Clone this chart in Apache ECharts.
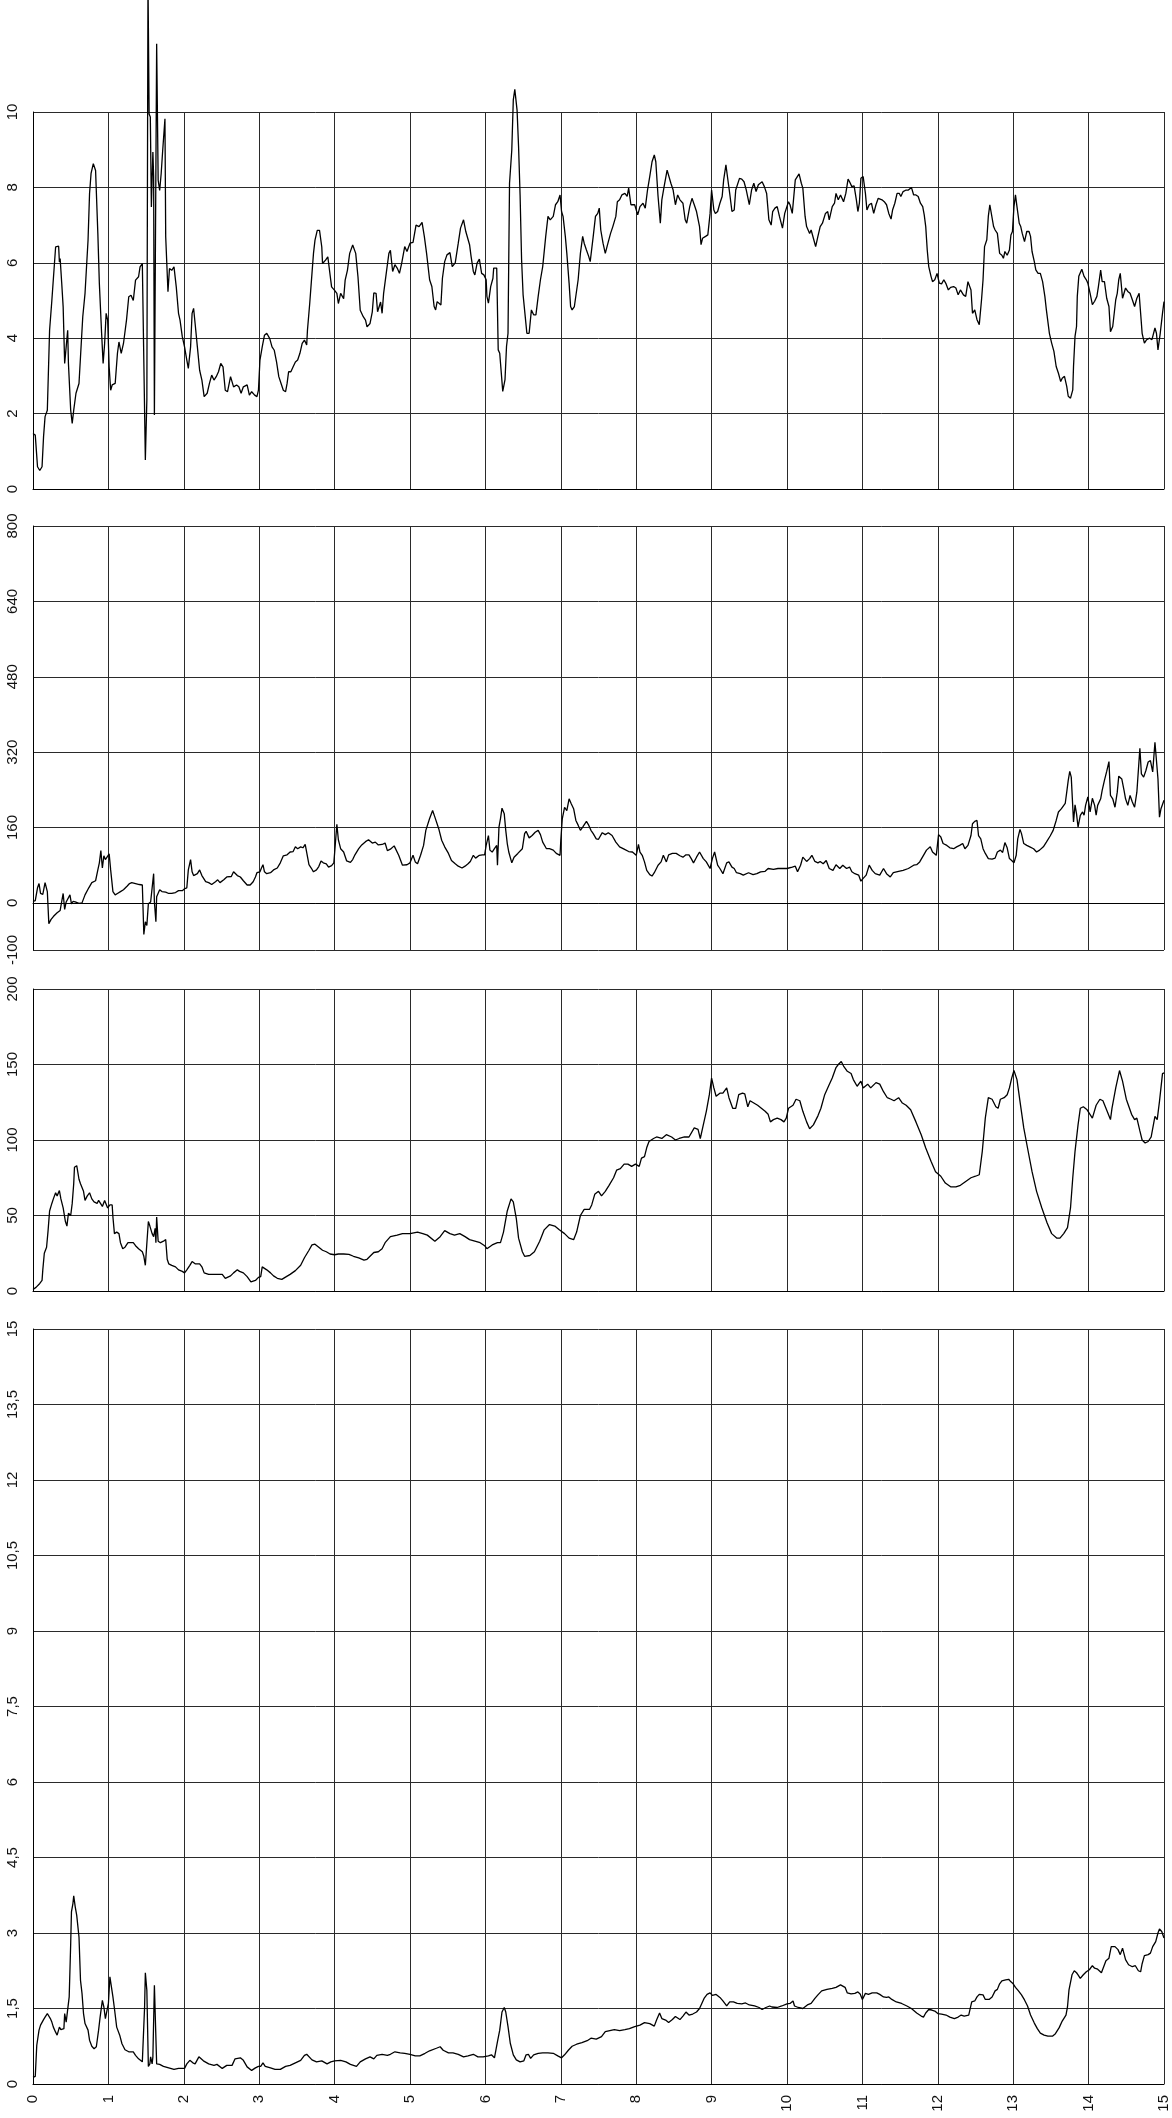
<!DOCTYPE html>
<html><head><meta charset="utf-8">
<script src="https://cdn.jsdelivr.net/npm/echarts@6/dist/echarts.min.js"></script>
<style>html,body{margin:0;padding:0;background:#fff}#c{width:1172px;height:2118px}</style>
</head><body><div id="c"></div>
<script>
// x range and y ranges of the four panels
const X_RANGE = [0, 15, 1];
const Y_RANGES = [[0, 10, 2], [-100, 800, 160], [0, 200, 50], [0, 15, 1.5]];
// tick values of panel 2 (does not start at its min)
const P2_TICKS = [-100, 0, 160, 320, 480, 640, 800];

// Panel 1 data [x, y]
const p1Data = [[0,1.47],[0.03,1.43],[0.06,0.59],[0.09,0.49],[0.12,0.59],[0.14,1.39],[0.16,1.92],[0.19,2.09],[0.22,4.21],[0.25,5.0],[0.30,6.42],[0.34,6.44],[0.35,6.02],[0.36,6.11],[0.38,5.49],[0.40,4.83],[0.42,3.33],[0.43,3.55],[0.44,3.51],[0.46,4.21],[0.47,3.33],[0.50,2.09],[0.52,1.74],[0.54,2.09],[0.57,2.54],[0.61,2.8],[0.63,3.51],[0.66,4.57],[0.69,5.19],[0.73,6.6],[0.75,7.84],[0.77,8.37],[0.80,8.63],[0.83,8.45],[0.86,6.78],[0.88,5.45],[0.91,4.13],[0.93,3.33],[0.95,3.86],[0.97,4.66],[0.99,4.48],[1.01,3.24],[1.03,2.62],[1.05,2.76],[1.09,2.8],[1.12,3.6],[1.14,3.9],[1.17,3.6],[1.20,3.86],[1.24,4.48],[1.27,5.1],[1.30,5.14],[1.33,5.0],[1.36,5.54],[1.40,5.63],[1.42,5.89],[1.45,5.98],[1.46,6.0],[1.49,0.77],[1.51,2.36],[1.525,13.5],[1.54,9.95],[1.556,9.87],[1.57,7.48],[1.59,8.94],[1.60,8.28],[1.61,1.96],[1.63,1.96],[1.64,11.81],[1.66,8.19],[1.68,7.92],[1.70,8.37],[1.72,8.98],[1.75,9.82],[1.76,6.69],[1.79,5.23],[1.81,5.85],[1.84,5.8],[1.87,5.89],[1.90,5.36],[1.93,4.66],[1.95,4.48],[1.98,4.04],[2.01,3.77],[2.04,3.42],[2.06,3.2],[2.09,3.77],[2.11,4.66],[2.13,4.79],[2.15,4.39],[2.18,3.77],[2.21,3.15],[2.24,2.89],[2.27,2.45],[2.31,2.54],[2.34,2.8],[2.37,3.02],[2.40,2.89],[2.43,2.98],[2.46,3.11],[2.49,3.33],[2.52,3.24],[2.55,2.62],[2.58,2.58],[2.62,2.98],[2.64,2.98],[2.66,2.71],[2.70,2.76],[2.73,2.71],[2.76,2.54],[2.79,2.71],[2.84,2.76],[2.87,2.49],[2.90,2.58],[2.94,2.49],[2.97,2.45],[2.99,2.62],[3.01,3.42],[3.04,3.77],[3.07,4.08],[3.10,4.13],[3.14,3.99],[3.17,3.77],[3.20,3.68],[3.23,3.37],[3.26,2.98],[3.29,2.8],[3.32,2.62],[3.35,2.58],[3.37,2.8],[3.39,3.11],[3.42,3.11],[3.45,3.24],[3.48,3.37],[3.51,3.42],[3.54,3.6],[3.57,3.86],[3.60,3.95],[3.63,3.82],[3.64,4.21],[3.67,4.92],[3.70,5.72],[3.72,6.25],[3.74,6.6],[3.77,6.86],[3.80,6.86],[3.83,6.42],[3.84,5.98],[3.88,6.07],[3.91,6.16],[3.93,6.16],[3.96,5.36],[4.0,5.27],[4.03,5.19],[4.05,4.92],[4.08,5.19],[4.12,5.05],[4.14,5.54],[4.17,5.8],[4.20,6.25],[4.24,6.47],[4.28,6.25],[4.31,5.63],[4.34,4.74],[4.38,4.57],[4.41,4.48],[4.43,4.3],[4.47,4.39],[4.50,4.7],[4.52,5.2],[4.55,5.19],[4.57,4.7],[4.61,4.96],[4.63,4.66],[4.65,5.19],[4.69,5.8],[4.72,6.25],[4.74,6.33],[4.77,5.77],[4.80,5.95],[4.83,5.86],[4.86,5.72],[4.89,5.99],[4.93,6.43],[4.96,6.3],[5.0,6.52],[5.04,6.54],[5.08,7.0],[5.12,6.96],[5.16,7.07],[5.19,6.7],[5.22,6.25],[5.26,5.55],[5.29,5.37],[5.32,4.84],[5.34,4.75],[5.36,4.97],[5.41,4.88],[5.43,5.59],[5.46,6.03],[5.49,6.21],[5.53,6.27],[5.56,5.9],[5.60,6.0],[5.64,6.52],[5.67,6.92],[5.71,7.14],[5.74,6.83],[5.79,6.48],[5.81,6.17],[5.84,5.77],[5.86,5.68],[5.89,5.99],[5.92,6.1],[5.95,5.72],[5.98,5.68],[6.01,5.55],[6.02,5.11],[6.04,4.93],[6.07,5.37],[6.10,5.59],[6.11,5.86],[6.15,5.86],[6.17,3.69],[6.19,3.6],[6.23,2.59],[6.26,2.9],[6.28,3.78],[6.30,4.13],[6.32,8.11],[6.35,8.99],[6.37,10.32],[6.39,10.6],[6.42,10.05],[6.44,9.08],[6.46,7.8],[6.48,6.08],[6.50,5.15],[6.55,4.13],[6.58,4.13],[6.61,4.75],[6.64,4.62],[6.67,4.62],[6.70,5.11],[6.73,5.55],[6.76,5.9],[6.80,6.7],[6.83,7.23],[6.86,7.14],[6.90,7.23],[6.93,7.54],[6.96,7.62],[6.99,7.8],[7.01,7.36],[7.03,7.23],[7.06,6.7],[7.08,6.25],[7.11,5.46],[7.13,4.84],[7.15,4.75],[7.18,4.84],[7.23,5.55],[7.26,6.25],[7.29,6.7],[7.31,6.52],[7.34,6.34],[7.37,6.17],[7.39,6.03],[7.43,6.7],[7.46,7.23],[7.49,7.31],[7.51,7.45],[7.53,6.87],[7.56,6.52],[7.59,6.25],[7.62,6.48],[7.66,6.78],[7.69,6.96],[7.73,7.23],[7.75,7.62],[7.78,7.67],[7.81,7.8],[7.85,7.84],[7.88,7.76],[7.90,7.98],[7.93,7.54],[7.98,7.54],[8.02,7.27],[8.05,7.49],[8.09,7.58],[8.12,7.45],[8.15,7.93],[8.18,8.29],[8.21,8.68],[8.24,8.86],[8.26,8.68],[8.29,7.76],[8.32,7.05],[8.34,7.67],[8.37,8.02],[8.41,8.46],[8.43,8.46],[8.46,8.11],[8.49,7.93],[8.52,7.54],[8.55,7.8],[8.58,7.67],[8.62,7.58],[8.65,7.14],[8.67,7.05],[8.71,7.49],[8.74,7.71],[8.77,7.54],[8.80,7.36],[8.84,6.96],[8.86,6.48],[8.88,6.65],[8.92,6.7],[8.95,6.74],[8.98,7.31],[9.0,7.93],[9.03,7.4],[9.05,7.31],[9.08,7.36],[9.11,7.58],[9.14,7.76],[9.16,8.2],[9.19,8.6],[9.21,8.29],[9.24,7.84],[9.27,7.36],[9.30,7.4],[9.32,7.93],[9.37,8.24],[9.40,8.22],[9.43,8.15],[9.46,7.93],[9.50,7.54],[9.53,7.93],[9.56,8.11],[9.59,7.89],[9.62,8.07],[9.67,8.15],[9.70,8.02],[9.73,7.84],[9.76,7.14],[9.79,7.0],[9.81,7.36],[9.84,7.45],[9.87,7.49],[9.90,7.23],[9.94,6.92],[9.97,7.31],[10.02,7.62],[10.04,7.54],[10.07,7.31],[10.11,8.2],[10.13,8.24],[10.16,8.36],[10.19,8.11],[10.21,7.98],[10.24,7.23],[10.26,6.96],[10.30,6.78],[10.32,6.87],[10.35,6.65],[10.38,6.43],[10.41,6.7],[10.44,6.96],[10.47,7.05],[10.51,7.31],[10.54,7.36],[10.56,7.14],[10.60,7.49],[10.63,7.58],[10.65,7.84],[10.68,7.67],[10.71,7.8],[10.75,7.62],[10.78,7.84],[10.81,8.22],[10.83,8.15],[10.86,8.02],[10.89,8.04],[10.92,7.67],[10.94,7.36],[10.96,7.58],[10.98,8.24],[11.01,8.29],[11.04,7.84],[11.06,7.4],[11.09,7.54],[11.12,7.58],[11.15,7.31],[11.18,7.54],[11.21,7.71],[11.26,7.67],[11.29,7.62],[11.32,7.54],[11.35,7.31],[11.38,7.16],[11.40,7.4],[11.43,7.58],[11.46,7.84],[11.49,7.84],[11.51,7.76],[11.54,7.89],[11.58,7.93],[11.61,7.93],[11.65,8.0],[11.68,7.8],[11.71,7.8],[11.74,7.76],[11.77,7.58],[11.80,7.49],[11.82,7.27],[11.84,6.96],[11.86,6.34],[11.88,5.9],[11.91,5.64],[11.93,5.5],[11.96,5.55],[11.99,5.72],[12.02,5.46],[12.05,5.44],[12.08,5.55],[12.11,5.44],[12.14,5.28],[12.17,5.35],[12.21,5.37],[12.24,5.33],[12.27,5.15],[12.30,5.28],[12.34,5.15],[12.37,5.11],[12.40,5.5],[12.42,5.55],[12.44,5.28],[12.46,4.66],[12.49,4.75],[12.52,4.49],[12.55,4.36],[12.58,5.02],[12.60,5.55],[12.62,6.43],[12.65,6.61],[12.67,7.23],[12.69,7.54],[12.71,7.49],[12.74,6.96],[12.76,6.87],[12.79,6.78],[12.82,6.25],[12.85,6.2],[12.87,6.12],[12.89,6.3],[12.92,6.2],[12.95,6.34],[12.97,6.74],[12.99,6.83],[13.01,7.49],[13.03,7.8],[13.05,7.49],[13.08,7.05],[13.10,6.96],[13.12,6.78],[13.15,6.56],[13.18,6.83],[13.21,6.83],[13.23,6.7],[13.25,6.3],[13.28,6.03],[13.30,5.81],[13.33,5.72],[13.36,5.72],[13.39,5.5],[13.42,5.11],[13.44,4.75],[13.48,4.13],[13.51,3.87],[13.54,3.65],[13.57,3.25],[13.60,3.07],[13.63,2.85],[13.65,2.94],[13.68,2.99],[13.71,2.72],[13.73,2.46],[13.76,2.41],[13.79,2.63],[13.80,3.25],[13.82,4.05],[13.84,4.31],[13.85,5.11],[13.87,5.64],[13.91,5.83],[13.94,5.64],[13.97,5.55],[13.99,5.46],[14.02,5.19],[14.05,4.89],[14.08,4.98],[14.11,5.11],[14.13,5.37],[14.16,5.81],[14.18,5.5],[14.21,5.5],[14.24,5.06],[14.27,4.84],[14.29,4.17],[14.32,4.31],[14.36,5.02],[14.38,5.19],[14.40,5.55],[14.42,5.72],[14.45,5.06],[14.47,5.02],[14.49,5.33],[14.52,5.24],[14.55,5.19],[14.58,5.02],[14.61,4.84],[14.64,5.06],[14.67,5.19],[14.69,4.66],[14.71,4.13],[14.74,3.87],[14.77,3.96],[14.81,4.0],[14.84,3.96],[14.88,4.27],[14.90,4.13],[14.92,3.69],[14.95,4.13],[14.98,4.66],[15.0,4.97]];

// Panel 2 data [x, y]
const p2Data = [[0,3],[0.03,5],[0.06,32],[0.08,41],[0.10,20],[0.13,18],[0.16,43],[0.19,24],[0.21,-44],[0.24,-35],[0.27,-29],[0.32,-21],[0.36,-16],[0.40,20],[0.42,-14],[0.44,2],[0.46,5],[0.49,17],[0.51,-2],[0.53,3],[0.56,2],[0.61,-1],[0.65,0],[0.69,17],[0.74,32],[0.78,43],[0.83,47],[0.86,70],[0.88,85],[0.90,111],[0.92,74],[0.94,100],[0.96,92],[0.98,92],[1.01,104],[1.03,70],[1.06,24],[1.09,17],[1.12,20],[1.16,24],[1.20,28],[1.25,36],[1.28,41],[1.31,43],[1.36,41],[1.41,39],[1.45,38],[1.47,-67],[1.49,-40],[1.51,-48],[1.53,-2],[1.56,2],[1.58,2],[1.60,62],[1.61,2],[1.63,-40],[1.64,13],[1.68,28],[1.71,24],[1.76,23],[1.80,20],[1.84,20],[1.89,22],[1.93,26],[1.98,26],[2.01,30],[2.04,32],[2.06,70],[2.09,92],[2.11,66],[2.13,58],[2.18,62],[2.21,70],[2.24,58],[2.29,45],[2.33,43],[2.37,39],[2.42,45],[2.45,49],[2.48,43],[2.53,49],[2.57,55],[2.63,56],[2.66,66],[2.71,58],[2.75,55],[2.79,47],[2.84,38],[2.88,38],[2.92,45],[2.95,55],[2.97,64],[3.01,66],[3.03,74],[3.05,81],[3.07,66],[3.10,62],[3.15,64],[3.19,70],[3.24,74],[3.28,85],[3.32,100],[3.37,102],[3.41,108],[3.45,109],[3.48,119],[3.51,115],[3.55,119],[3.58,117],[3.61,124],[3.63,127],[3.66,81],[3.69,74],[3.72,66],[3.76,70],[3.79,77],[3.82,89],[3.85,85],[3.89,83],[3.92,76],[3.96,79],[3.99,85],[4.01,85],[4.03,167],[4.05,134],[4.08,115],[4.12,108],[4.16,89],[4.21,86],[4.24,92],[4.27,102],[4.32,115],[4.36,123],[4.41,130],[4.45,134],[4.50,127],[4.54,129],[4.58,123],[4.63,124],[4.67,127],[4.70,111],[4.74,114],[4.79,121],[4.85,101],[4.90,80],[4.96,81],[5.0,85],[5.04,101],[5.07,87],[5.10,83],[5.14,101],[5.18,122],[5.21,154],[5.26,179],[5.30,196],[5.33,182],[5.38,158],[5.42,133],[5.46,119],[5.51,105],[5.55,90],[5.60,83],[5.64,78],[5.69,74],[5.73,78],[5.77,83],[5.80,88],[5.84,101],[5.87,95],[5.92,101],[5.96,102],[5.99,102],[6.01,122],[6.04,143],[6.06,112],[6.09,108],[6.12,115],[6.15,122],[6.16,80],[6.18,161],[6.20,179],[6.22,201],[6.25,189],[6.27,154],[6.29,126],[6.31,108],[6.35,85],[6.38,97],[6.43,105],[6.49,115],[6.52,147],[6.54,152],[6.58,138],[6.62,143],[6.66,150],[6.70,154],[6.73,145],[6.76,129],[6.81,115],[6.85,115],[6.90,112],[6.94,105],[6.99,101],[7.0,133],[7.02,179],[7.05,203],[7.08,196],[7.11,221],[7.14,210],[7.17,200],[7.20,175],[7.23,165],[7.26,154],[7.29,161],[7.34,173],[7.37,165],[7.40,154],[7.43,147],[7.47,136],[7.50,135],[7.55,149],[7.59,145],[7.63,149],[7.68,143],[7.73,129],[7.78,119],[7.84,114],[7.90,109],[7.95,108],[8.0,101],[8.03,124],[8.05,108],[8.08,101],[8.11,87],[8.14,69],[8.18,60],[8.21,57],[8.24,64],[8.29,80],[8.33,87],[8.36,101],[8.40,87],[8.43,102],[8.48,105],[8.53,105],[8.58,100],[8.62,97],[8.66,102],[8.70,102],[8.73,94],[8.76,85],[8.80,97],[8.84,108],[8.89,94],[8.93,87],[8.98,73],[9.01,94],[9.04,108],[9.08,80],[9.11,73],[9.15,62],[9.20,85],[9.23,87],[9.27,76],[9.30,73],[9.33,64],[9.38,62],[9.42,59],[9.49,64],[9.55,60],[9.60,62],[9.65,66],[9.71,67],[9.75,73],[9.82,71],[9.88,73],[10.0,73],[10.07,76],[10.11,78],[10.14,66],[10.18,80],[10.21,97],[10.26,88],[10.30,94],[10.33,101],[10.37,88],[10.41,85],[10.44,88],[10.48,83],[10.52,90],[10.56,73],[10.61,69],[10.65,81],[10.70,73],[10.74,80],[10.79,73],[10.83,76],[10.86,66],[10.90,62],[10.95,59],[10.98,46],[11.01,52],[11.05,59],[11.09,80],[11.13,69],[11.17,62],[11.23,59],[11.28,73],[11.32,62],[11.37,55],[11.41,64],[11.48,67],[11.54,69],[11.61,73],[11.68,80],[11.72,81],[11.76,87],[11.81,101],[11.85,112],[11.90,119],[11.93,108],[11.98,101],[12.01,145],[12.04,140],[12.07,126],[12.12,122],[12.16,117],[12.21,115],[12.25,119],[12.29,122],[12.33,126],[12.36,115],[12.40,122],[12.44,143],[12.46,168],[12.49,173],[12.52,175],[12.54,143],[12.57,136],[12.60,115],[12.63,105],[12.67,94],[12.72,93],[12.76,95],[12.79,108],[12.83,112],[12.86,107],[12.89,128],[12.92,117],[12.95,94],[12.98,90],[13.01,85],[13.04,101],[13.06,136],[13.09,156],[13.11,147],[13.14,126],[13.18,122],[13.22,119],[13.27,115],[13.31,108],[13.35,112],[13.40,119],[13.44,129],[13.49,142],[13.53,154],[13.57,175],[13.60,193],[13.64,200],[13.69,211],[13.71,235],[13.73,260],[13.75,279],[13.77,267],[13.80,172],[13.82,208],[13.84,189],[13.86,161],[13.89,186],[13.92,193],[13.94,186],[13.96,207],[13.99,225],[14.02,193],[14.05,222],[14.08,207],[14.10,186],[14.12,207],[14.16,221],[14.18,239],[14.21,260],[14.24,279],[14.27,300],[14.29,228],[14.32,221],[14.35,203],[14.38,235],[14.40,269],[14.44,263],[14.47,239],[14.49,221],[14.52,207],[14.55,228],[14.58,214],[14.61,203],[14.64,235],[14.68,328],[14.70,274],[14.73,267],[14.76,281],[14.79,299],[14.82,302],[14.85,278],[14.88,341],[14.90,345],[14.92,263],[14.94,182],[14.96,200],[15.0,218]];

// Panel 3 data [x, y]
const p3Data = [[0,1],[0.04,2.4],[0.09,5],[0.12,7],[0.13,14],[0.15,25],[0.18,29],[0.20,40],[0.22,53],[0.25,58],[0.27,61],[0.30,65],[0.32,63],[0.34,64],[0.35,66.5],[0.37,61],[0.40,55],[0.43,46],[0.45,43],[0.47,51.5],[0.50,50],[0.52,58],[0.54,71],[0.55,82],[0.58,83],[0.61,74],[0.63,71],[0.65,72],[0.67,66],[0.69,60],[0.72,63],[0.75,65],[0.78,61],[0.81,59],[0.85,58],[0.87,60],[0.89,59],[0.92,56],[0.95,60],[0.97,59],[0.99,55],[1.02,57],[1.05,57],[1.06,49],[1.08,38],[1.11,39],[1.14,38],[1.16,32],[1.19,28],[1.22,29],[1.26,32],[1.29,32],[1.33,32],[1.36,30],[1.40,28],[1.45,26],[1.47,23],[1.49,17],[1.51,18],[1.53,46],[1.55,43],[1.58,38],[1.60,36],[1.62,41.5],[1.63,32],[1.64,49],[1.66,33],[1.69,32],[1.73,33],[1.76,34],[1.78,21],[1.80,18],[1.84,17],[1.89,16],[1.93,14],[1.98,13],[2.01,12],[2.04,14],[2.08,17],[2.11,19.5],[2.15,18],[2.21,18],[2.24,16],[2.27,12],[2.33,11],[2.40,11],[2.46,11],[2.51,11],[2.55,8.4],[2.62,10],[2.66,12],[2.71,14],[2.74,13],[2.79,12],[2.84,9.5],[2.89,6],[2.95,7],[2.99,9],[3.02,9.5],[3.04,16],[3.07,15],[3.10,14],[3.15,12],[3.19,10],[3.24,8.4],[3.30,7.7],[3.36,9.5],[3.41,11],[3.48,13.5],[3.55,17],[3.60,22],[3.66,27],[3.70,30.5],[3.74,31],[3.79,29],[3.84,27],[3.89,26],[3.94,24.5],[4.0,24],[4.05,24.5],[4.12,24.5],[4.19,24.3],[4.25,23],[4.32,22],[4.39,20.5],[4.43,21],[4.47,23],[4.52,25.5],[4.58,26],[4.63,28],[4.67,32],[4.74,36],[4.83,37],[4.90,38],[5.0,38],[5.10,39],[5.17,38],[5.23,37],[5.33,33],[5.40,36],[5.46,40],[5.53,38],[5.59,37],[5.66,38],[5.73,36],[5.79,34],[5.86,33],[5.93,32],[5.99,30],[6.02,28],[6.09,30.5],[6.16,32],[6.20,32],[6.24,39],[6.29,53],[6.34,61],[6.37,59],[6.41,48],[6.44,35],[6.49,26],[6.52,23],[6.59,23.5],[6.65,26],[6.72,33],[6.78,40.5],[6.85,44],[6.92,43],[6.98,40.5],[7.05,38],[7.11,35],[7.17,34],[7.21,39],[7.26,50],[7.31,54],[7.38,54],[7.41,57],[7.45,64],[7.50,66],[7.54,63],[7.59,66],[7.64,70],[7.70,75],[7.74,80],[7.79,81],[7.84,84],[7.89,84],[7.94,82.5],[7.99,84],[8.04,82.5],[8.07,88],[8.11,89],[8.14,95],[8.17,99],[8.23,101],[8.27,102],[8.34,101],[8.40,103.5],[8.47,102],[8.52,100],[8.57,101],[8.64,102],[8.70,102],[8.77,108],[8.82,107],[8.85,101],[8.89,110],[8.93,119],[8.97,130],[9.0,141],[9.03,134.5],[9.06,129],[9.11,131],[9.15,131],[9.20,134.5],[9.23,128],[9.28,121],[9.32,121],[9.36,130],[9.41,131],[9.44,130.5],[9.48,122],[9.51,126],[9.56,124.5],[9.61,123],[9.66,121],[9.71,119],[9.75,117],[9.78,112],[9.82,113.5],[9.87,114.5],[9.92,113.5],[9.96,112],[9.99,114.5],[10.02,121],[10.08,123],[10.12,127],[10.17,126],[10.21,119],[10.26,112],[10.30,107.5],[10.35,110],[10.41,116],[10.45,121],[10.50,130],[10.55,135.6],[10.60,141],[10.65,148],[10.68,150],[10.72,152],[10.75,149],[10.80,145.5],[10.85,144],[10.88,140],[10.93,135.6],[10.98,139],[11.01,134.5],[11.07,137],[11.11,134.5],[11.18,138],[11.23,137],[11.28,132],[11.33,128],[11.38,127],[11.42,126],[11.48,128],[11.53,124.5],[11.58,123],[11.64,120],[11.71,112],[11.78,103.5],[11.84,94.7],[11.91,86],[11.97,79],[12.04,76],[12.10,71.5],[12.17,69],[12.24,69],[12.30,70],[12.37,72.5],[12.44,75],[12.50,76],[12.55,77],[12.59,92.5],[12.63,114.5],[12.67,128],[12.72,127],[12.77,122],[12.80,121],[12.83,127],[12.88,128],[12.92,130],[12.95,134.5],[12.98,141],[13.01,146],[13.05,140],[13.09,125.6],[13.14,108],[13.19,94.7],[13.25,79],[13.31,66],[13.38,55],[13.45,45],[13.51,38],[13.58,35],[13.62,35],[13.67,38],[13.72,42],[13.76,55],[13.79,75],[13.82,92.5],[13.86,110],[13.89,121],[13.93,122],[13.98,120],[14.05,114.5],[14.10,123],[14.15,127],[14.19,126],[14.23,121],[14.29,113.5],[14.31,121],[14.36,134.5],[14.41,146],[14.45,139],[14.50,127],[14.57,117],[14.61,113.5],[14.64,114.5],[14.68,106],[14.71,100],[14.75,98],[14.79,99],[14.83,102],[14.88,115.6],[14.91,113.5],[14.94,125.6],[14.98,144],[15.0,144.5]];

// Panel 4 data [x, y]
const p4Data = [[0,0.13],[0.03,0.15],[0.05,0.77],[0.08,1.07],[0.10,1.17],[0.12,1.17],[0.14,1.28],[0.16,1.33],[0.19,1.40],[0.21,1.43],[0.23,1.30],[0.25,1.23],[0.27,1.13],[0.30,1.03],[0.32,0.97],[0.34,0.97],[0.35,1.13],[0.37,1.08],[0.41,1.1],[0.42,1.40],[0.44,1.23],[0.46,1.23],[0.48,1.73],[0.50,2.79],[0.51,3.42],[0.53,3.59],[0.54,3.74],[0.56,3.52],[0.58,3.35],[0.61,2.92],[0.63,2.06],[0.65,1.80],[0.67,1.40],[0.69,1.20],[0.73,1.07],[0.75,0.87],[0.78,0.75],[0.81,0.70],[0.84,0.74],[0.87,1.07],[0.89,1.33],[0.92,1.66],[0.94,1.53],[0.96,1.30],[0.98,1.27],[1.0,1.60],[1.02,2.13],[1.04,2.16],[1.06,1.73],[1.08,1.50],[1.11,1.13],[1.15,0.97],[1.18,0.80],[1.22,0.68],[1.27,0.64],[1.33,0.64],[1.36,0.57],[1.40,0.50],[1.45,0.44],[1.48,1.53],[1.49,2.21],[1.51,1.86],[1.53,0.35],[1.55,0.40],[1.56,0.54],[1.58,0.40],[1.59,0.54],[1.61,1.96],[1.62,1.96],[1.64,0.40],[1.68,0.39],[1.73,0.35],[1.80,0.32],[1.87,0.29],[1.93,0.31],[2.01,0.31],[2.04,0.40],[2.08,0.47],[2.12,0.42],[2.15,0.40],[2.20,0.54],[2.22,0.57],[2.26,0.46],[2.33,0.40],[2.40,0.37],[2.44,0.39],[2.51,0.31],[2.57,0.37],[2.64,0.37],[2.68,0.50],[2.75,0.52],[2.79,0.47],[2.84,0.34],[2.90,0.27],[2.95,0.32],[2.99,0.35],[3.02,0.35],[3.05,0.42],[3.08,0.35],[3.15,0.32],[3.21,0.29],[3.28,0.29],[3.35,0.35],[3.41,0.37],[3.48,0.42],[3.55,0.47],[3.60,0.57],[3.63,0.59],[3.70,0.48],[3.76,0.44],[3.83,0.46],[3.90,0.40],[3.95,0.44],[4.0,0.46],[4.08,0.47],[4.15,0.44],[4.21,0.39],[4.29,0.35],[4.34,0.44],[4.41,0.50],[4.47,0.54],[4.52,0.50],[4.56,0.57],[4.63,0.59],[4.70,0.57],[4.74,0.59],[4.80,0.64],[4.87,0.62],[4.93,0.61],[5.0,0.59],[5.07,0.56],[5.13,0.56],[5.20,0.61],[5.26,0.66],[5.35,0.71],[5.40,0.74],[5.44,0.67],[5.51,0.62],[5.57,0.62],[5.64,0.59],[5.71,0.54],[5.77,0.56],[5.84,0.59],[5.90,0.54],[5.97,0.54],[6.04,0.56],[6.08,0.58],[6.12,0.52],[6.16,0.84],[6.19,1.07],[6.22,1.43],[6.25,1.52],[6.27,1.43],[6.30,1.14],[6.33,0.81],[6.37,0.58],[6.41,0.48],[6.46,0.44],[6.51,0.46],[6.54,0.58],[6.57,0.59],[6.60,0.51],[6.64,0.58],[6.70,0.61],[6.76,0.62],[6.83,0.62],[6.90,0.61],[6.96,0.56],[7.01,0.52],[7.05,0.58],[7.10,0.67],[7.15,0.75],[7.21,0.79],[7.28,0.82],[7.35,0.86],[7.40,0.91],[7.47,0.89],[7.54,0.94],[7.59,1.04],[7.65,1.06],[7.71,1.08],[7.78,1.06],[7.85,1.08],[7.91,1.10],[7.98,1.14],[8.05,1.17],[8.11,1.22],[8.18,1.20],[8.24,1.15],[8.27,1.27],[8.31,1.41],[8.34,1.30],[8.39,1.27],[8.43,1.22],[8.48,1.28],[8.52,1.34],[8.58,1.28],[8.62,1.35],[8.66,1.43],[8.70,1.37],[8.75,1.39],[8.80,1.43],[8.84,1.50],[8.87,1.60],[8.90,1.70],[8.94,1.78],[8.98,1.81],[9.01,1.76],[9.06,1.78],[9.11,1.72],[9.15,1.65],[9.20,1.55],[9.24,1.63],[9.29,1.63],[9.34,1.60],[9.40,1.59],[9.45,1.61],[9.50,1.57],[9.57,1.55],[9.63,1.52],[9.67,1.48],[9.72,1.52],[9.77,1.55],[9.80,1.53],[9.87,1.52],[9.93,1.55],[10.0,1.59],[10.04,1.60],[10.08,1.65],[10.10,1.55],[10.15,1.52],[10.21,1.50],[10.27,1.57],[10.32,1.60],[10.37,1.70],[10.41,1.77],[10.46,1.85],[10.53,1.88],[10.60,1.90],[10.65,1.92],[10.71,1.97],[10.77,1.92],[10.80,1.81],[10.85,1.79],[10.90,1.80],[10.94,1.83],[10.97,1.79],[11.0,1.68],[11.04,1.80],[11.08,1.78],[11.13,1.81],[11.19,1.81],[11.23,1.78],[11.28,1.73],[11.32,1.72],[11.35,1.73],[11.39,1.68],[11.45,1.63],[11.52,1.60],[11.59,1.55],[11.65,1.50],[11.72,1.41],[11.78,1.35],[11.81,1.33],[11.84,1.41],[11.88,1.48],[11.92,1.47],[11.96,1.45],[12.0,1.40],[12.05,1.39],[12.11,1.37],[12.16,1.33],[12.22,1.30],[12.27,1.33],[12.31,1.37],[12.35,1.35],[12.41,1.37],[12.43,1.37],[12.45,1.63],[12.49,1.65],[12.52,1.73],[12.55,1.78],[12.60,1.77],[12.63,1.68],[12.68,1.68],[12.72,1.73],[12.76,1.85],[12.79,1.88],[12.82,1.99],[12.85,2.05],[12.90,2.07],[12.94,2.08],[12.97,2.03],[13.0,1.99],[13.03,1.92],[13.07,1.85],[13.11,1.77],[13.15,1.67],[13.19,1.55],[13.23,1.37],[13.28,1.21],[13.32,1.10],[13.36,1.01],[13.41,0.97],[13.46,0.95],[13.52,0.95],[13.56,1.0],[13.61,1.12],[13.65,1.25],[13.70,1.37],[13.72,1.53],[13.74,1.87],[13.78,2.17],[13.81,2.25],[13.84,2.21],[13.86,2.17],[13.89,2.10],[13.93,2.17],[13.97,2.23],[14.01,2.27],[14.05,2.35],[14.08,2.30],[14.12,2.28],[14.17,2.21],[14.20,2.33],[14.23,2.45],[14.27,2.50],[14.30,2.73],[14.35,2.73],[14.39,2.67],[14.42,2.57],[14.45,2.70],[14.49,2.47],[14.53,2.37],[14.58,2.33],[14.62,2.35],[14.66,2.25],[14.69,2.23],[14.71,2.39],[14.74,2.55],[14.79,2.57],[14.82,2.60],[14.85,2.73],[14.89,2.83],[14.92,3.0],[14.94,3.08],[14.97,3.03],[15.0,2.90]];

const PANELS = [p1Data, p2Data, p3Data, p4Data];
const GRID_BOX = [[112, 377], [526, 424], [989, 302], [1329, 755]];

const FONT = '"Liberation Sans", Arial, sans-serif';
const chart = echarts.init(document.getElementById('c'), null, {renderer: 'canvas'});
const lineCol = '#2a2a2a';

const option = {
  animation: false,
  backgroundColor: '#fff',
  grid: GRID_BOX.map(g => ({left: 33, right: 8, top: g[0], height: g[1], containLabel: false})),
  xAxis: PANELS.map((_, i) => ({
    type: 'value', gridIndex: i, min: X_RANGE[0], max: X_RANGE[1], interval: X_RANGE[2],
    axisLine: {show: true, lineStyle: {color: '#000', width: 1}},
    axisTick: {show: false},
    axisLabel: {show: i === 3, rotate: 90, margin: 11, fontSize: 15, color: '#111', fontFamily: FONT},
    splitLine: {show: true, lineStyle: {color: lineCol, width: 1}}
  })),
  yAxis: Y_RANGES.map((r, i) => {
    const ax = {
      type: 'value', gridIndex: i, min: r[0], max: r[1],
      axisLine: {show: true, lineStyle: {color: '#000', width: 1}},
      axisTick: {show: false},
      axisLabel: {rotate: 90, margin: 13, fontSize: 15, color: '#111', fontFamily: FONT,
        formatter: v => String(v).replace('.', ',')},
      splitLine: {show: true, lineStyle: {color: lineCol, width: 1}}
    };
    if (i === 1) {
      ax.axisTick.customValues = P2_TICKS;
      ax.axisLabel.customValues = P2_TICKS;
    } else {
      ax.interval = r[2];
    }
    return ax;
  }),
  series: PANELS.map((d, i) => ({
    type: 'line', xAxisIndex: i, yAxisIndex: i, data: d,
    showSymbol: false, symbol: 'none', clip: i !== 0,
    lineStyle: {color: '#000', width: 1.3}
  }))
};
chart.setOption(option);
</script>
</body></html>
